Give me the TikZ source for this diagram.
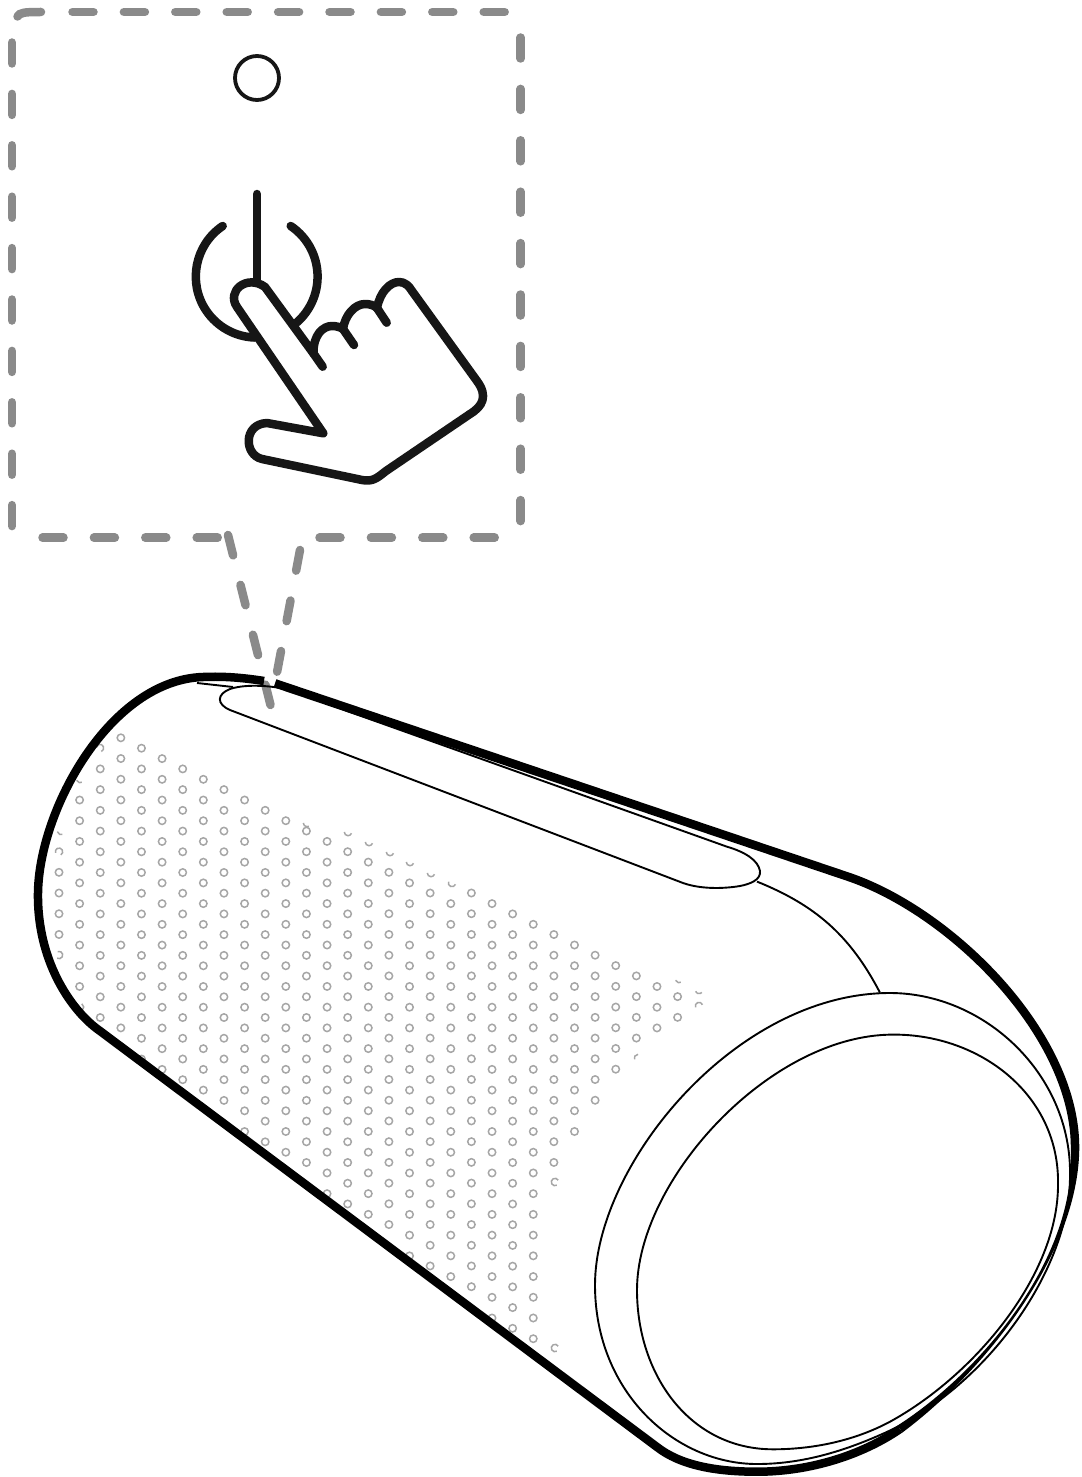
\documentclass[tikz,border=0pt]{standalone}
\usepackage{xcolor}
\usepackage{tikz}
\definecolor{dashgray}{HTML}{8A8A8A}
\definecolor{dotgray}{HTML}{A6A6A6}
\definecolor{handblack}{HTML}{161616}

\begin{document}
\begin{tikzpicture}[
    x=1pt, y=-1pt,
    zoombox/.style={draw=dashgray, line width=8.5pt, line cap=round, dash pattern=on 21pt off 30.4pt},
    handline/.style={draw=handblack, line width=8.5pt, line cap=round, line join=round},
    shell/.style={draw=black, line width=8.5pt, line join=round},
    thinline/.style={draw=black, line width=1.9pt},
    grille/.style={draw=dotgray, line width=1.5pt},
]
\useasboundingbox (0,0) rectangle (1081,1477);

% callout
\draw[zoombox, dash pattern=] (17.5,16.5) .. controls (20,12.5) and (24,12) .. (41,12);
\draw[zoombox] (72.5,12) -- (510,12);
\draw[zoombox] (12,42.5) -- (12,530);
\draw[zoombox] (520.7,37.5) -- (520.7,525);
\draw[zoombox] (42.5,537.7) -- (220,537.7);
\draw[zoombox] (319.5,537.7) -- (498,537.7);
\draw[zoombox] (228,535) -- (271,707);
\draw[zoombox] (300,550) -- (276.7,674);

% power symbol
\draw[handblack, line width=3.8pt] (257,78) circle (22);
\draw[handline] (257,194) -- (257,285);
\draw[handline] (222.7,226) arc[start angle=-124, end angle=-268, radius=61];
\draw[handline] (290.7,226) arc[start angle=-56, end angle=50, radius=61];

% hand
\draw[handline, fill=white] (323.3,433.3) -- (237,307) .. controls (226,291) and (247,274) .. (265,287)
    -- (313.5,353.5) .. controls (313,335) and (323,326) .. (332,326)
    .. controls (336,326) and (340,327) .. (343,329)
    .. controls (345,315) and (355,304) .. (365,304)
    .. controls (369,304) and (374,305) .. (377,308)
    .. controls (380,292) and (390,282) .. (399,282)
    .. controls (405,282) and (409,286) .. (412,291)
    -- (477,381) .. controls (488,396) and (483,406) .. (470,414)
    -- (386,471) .. controls (377,478) and (373,482) .. (362,480)
    -- (262,459) .. controls (244,455) and (243,424) .. (267,423) -- cycle;
\draw[handline] (313.5,353.5) -- (322.7,366.7);
\draw[handline] (343,329) -- (354,345);
\draw[handline] (377,308) -- (386.7,322.7);

% speaker grille
\foreach \col/\ytop/\ndots in {0/872.3/3, 1/800/9, 2/768.9/12, 3/737.8/14, 4/748.2/15, 5/758.6/15, 6/768.9/15,
    7/779.3/15, 8/789.6/15, 9/800/16, 10/810.3/16, 11/820.7/16, 12/831/16, 13/841.4/17, 14/851.7/17,
    15/862.1/17, 16/872.3/17, 17/882.9/18, 18/893/18, 19/903.6/18, 20/893/19, 21/903.6/20, 22/913.9/20,
    23/924.3/20, 24/934.5/11, 25/945/9, 26/955.2/7, 27/965.6/5, 28/975.9/3, 29/986.5/2, 30/996.6/1} {
    \foreach \k in {0,...,\ndots} {
        \draw[grille] ({59+20.62*\col},{\ytop+20.72*\k}) circle (3.7);
    }
}
% half dots at the fade
\foreach \xa/\ya/\sa/\ea in {59/851.7/-60/200, 61/831/190/290, 59/955/-120/110, 80/779/200/300, 80/1007/-90/60,
    100/748/-70/170, 307/823/180/300, 348/832/180/340, 369/842/180/340, 390/852/180/340, 410/862/180/340,
    431/873/180/340, 452/883/160/340, 679/979/200/300, 699/990/200/320, 699/1006/20/200, 638/1058/90/200,
    555/1182/30/300, 555/1348/30/300} {
    \draw[grille] ({\xa+3.7*cos(\sa)},{\ya-3.7*sin(\sa)}) arc[start angle=-\sa, end angle=-\ea, radius=3.7];
}

% slot on top
\draw[thinline] (285,688.8) -- (727,846.7) .. controls (745,852) and (758,860) .. (760,871)
    .. controls (761,880) and (750,884) .. (740,886) .. controls (722,889) and (700,889) .. (683,883)
    -- (230,710) .. controls (216,704) and (217,694) .. (230,689) .. controls (240,685.5) and (260,684) .. (285,688.8);
\draw[thinline] (197,683) -- (233,687);
\draw[thinline] (757,881.6) .. controls (815,905) and (850,935) .. (880,992.7);

% end ring and cap
\draw[thinline] (890,993) .. controls (985,993) and (1072,1075) .. (1070,1176)
    .. controls (1070,1270) and (985,1390) .. (880,1435) .. controls (840,1452.5) and (800,1464) .. (757,1464)
    .. controls (675,1464) and (595,1392) .. (595,1285) .. controls (595,1165) and (735,993) .. (890,993) -- cycle;
\draw[thinline] (893,1034.6) .. controls (980,1034) and (1060,1095) .. (1058,1185)
    .. controls (1058,1275) and (975,1375) .. (890,1421.7) .. controls (852,1442) and (810,1449.3) .. (773,1449.3)
    .. controls (690,1449.3) and (637,1375) .. (637,1290) .. controls (637,1180) and (770,1034.6) .. (893,1034.6) -- cycle;

% body outline
\draw[shell] (275,683.3) -- (846,876) .. controls (950,910) and (1077,1035) .. (1075,1150);
\fill[black] (1079.25,1150) .. controls (1077.4,1255) and (985.05,1370.7) .. (902.4,1432.5)
    -- (897.6,1425.5) .. controls (984.95,1369.3) and (1076.6,1255) .. (1070.75,1150) -- cycle;
\draw[shell] (900,1429) .. controls (862,1455) and (810,1471.7) .. (757,1471.7)
    .. controls (715,1471.7) and (680,1465) .. (657,1447) -- (96,1028) .. controls (70,1008) and (37,960) .. (38,893)
    .. controls (39,810) and (110,680) .. (203,677) .. controls (225,676) and (245,678) .. (264,681);
\end{tikzpicture}
\end{document}
